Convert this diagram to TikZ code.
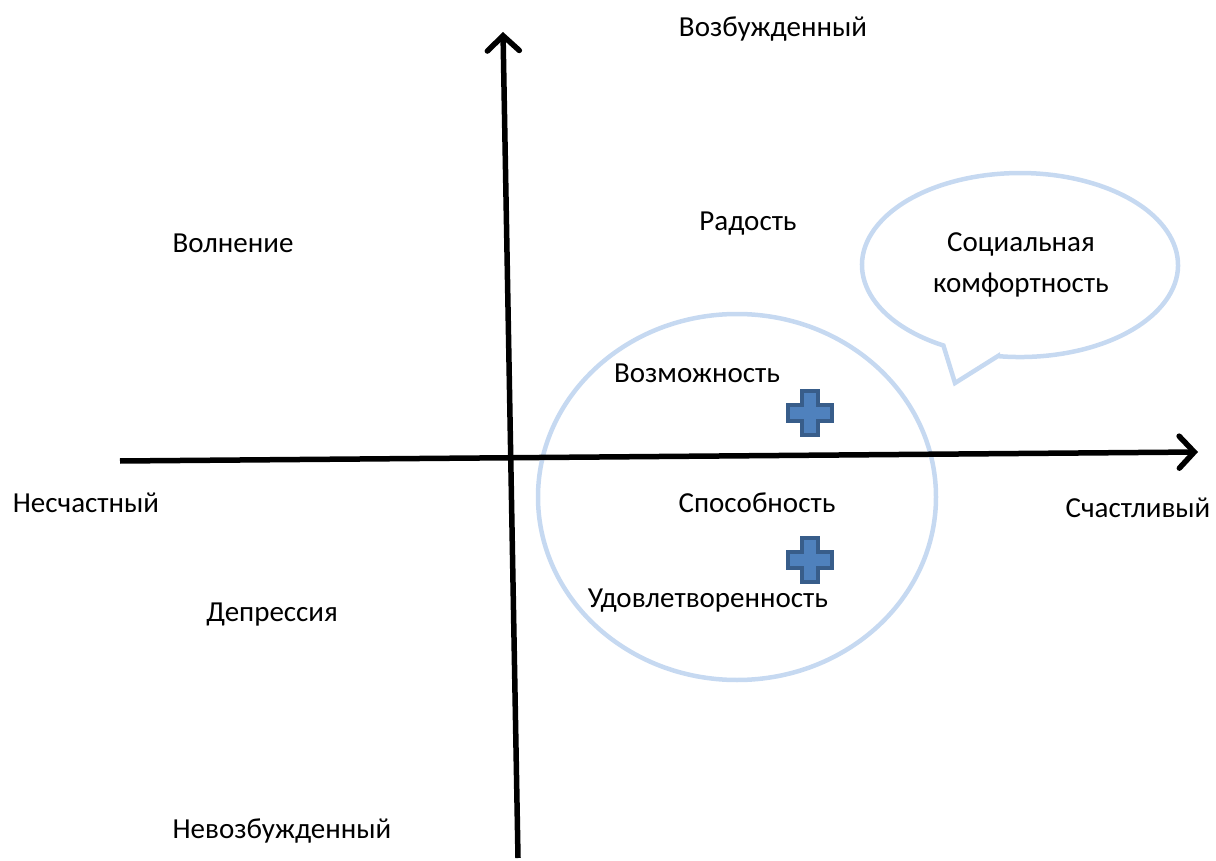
\documentclass[tikz,border=0pt]{standalone}
\usepackage{fontspec}
\setmainfont{Carlito}
\usetikzlibrary{arrows.meta}
\definecolor{bubble}{HTML}{C6D9F1}
\definecolor{plusfill}{HTML}{4F81BD}
\definecolor{plusline}{HTML}{385D8A}
\tikzset{
  axis/.style={line width=5.5pt, -{Straight Barb[length=15pt,width=32pt,line width=5.5pt,line cap=round]}},
  lbl/.style={font=\fontsize{29}{34}\selectfont, inner sep=0pt},
  ring/.style={draw=bubble, line width=4.5pt},
  plussign/.pic={\draw[fill=plusfill, draw=plusline, line width=4pt]
    (-8,-22)--(8,-22)--(8,-8)--(22,-8)--(22,8)--(8,8)--(8,22)--(-8,22)--(-8,8)--(-22,8)--(-22,-8)--(-8,-8)--cycle;}
}
\begin{document}
\begin{tikzpicture}[x=1pt,y=-1pt]
\useasboundingbox (0,0) rectangle (1216,861);
% axes
\coordinate (vbot) at (518,858);
\coordinate (vtop) at (503,32);
\coordinate (hleft) at (120,461);
\coordinate (hright) at (1198,452);
% circle
\draw[ring] (737,497) ellipse[x radius=199, y radius=183];
% bubble
\draw[ring, line join=miter] (998,356) -- (955,383) -- (943.4,345.5)
  arc[start angle=119, end angle=458, x radius=158, y radius=92] -- cycle;
\draw[axis] (vbot) -- (vtop);
\draw[axis] (hleft) -- (hright);
% plus signs
\pic at (810,413) {plussign};
\pic at (810,560) {plussign};
% labels
\node[lbl] (exc) at (773,29) {Возбужденный};
\node[lbl] (joy) at (748,224) {Радость};
\node[lbl] (agit) at (233,243) {Волнение};
\node[lbl, align=center, font=\fontsize{29}{41}\selectfont] (soc) at (1021,265) {Социальная\\комфортность};
\node[lbl] (opp) at (697,373) {Возможность};
\node[lbl] (unh) at (86,503) {Несчастный};
\node[lbl] (abil) at (757,503) {Способность};
\node[lbl] (hap) at (1138,508) {Счастливый};
\node[lbl] (sat) at (708,601) {Удовлетворенность};
\node[lbl] (dep) at (272,615) {Депрессия};
\node[lbl] (calm) at (282,831) {Невозбужденный};
\end{tikzpicture}
\end{document}
